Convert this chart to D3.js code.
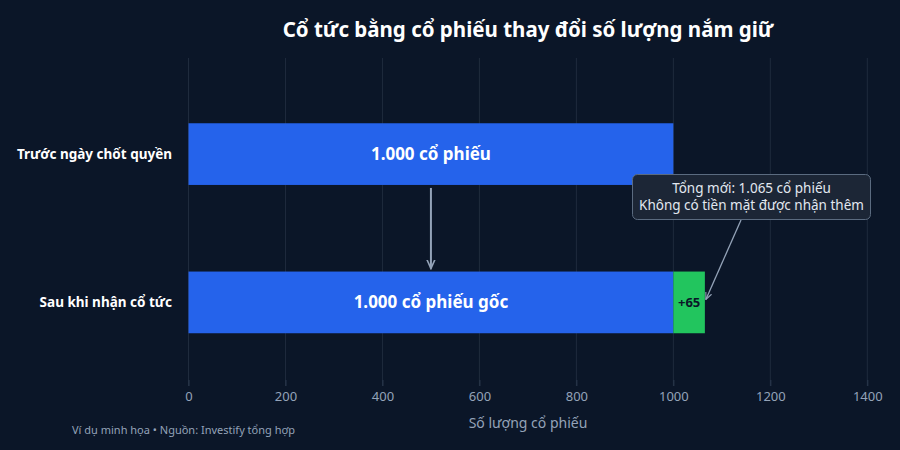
<!DOCTYPE html>
<html><head><meta charset="utf-8">
<script src="https://cdn.jsdelivr.net/npm/d3@7"></script>
<style>html,body{margin:0;padding:0;background:#0b1628;}svg{display:block;font-family:"Noto Sans","Open Sans",sans-serif;}</style>
</head><body>
<script>
const categories = ["Trước ngày chốt quyền", "Sau khi nhận cổ tức"];
const baseShares = [1000, 1000];
const bonusShares = [0, 65];
const baseLabels = ["1.000 cổ phiếu", "1.000 cổ phiếu gốc"];
const bonusLabels = ["", "+65"];
const xTicks = [0, 200, 400, 600, 800, 1000, 1200, 1400];
const title = "Cổ tức bằng cổ phiếu thay đổi số lượng nắm giữ";
const xTitle = "Số lượng cổ phiếu";
const footer = "Ví dụ minh họa  •  Nguồn: Investify tổng hợp";
const noteLines = ["Tổng mới: 1.065 cổ phiếu", "Không có tiền mặt được nhận thêm"];

const W = 900, H = 450;
const svg = d3.select("body").append("svg").attr("width", W).attr("height", H);
svg.append("rect").attr("width", W).attr("height", H).attr("fill", "#0b1628");

const x = d3.scaleLinear().domain([0, 1400]).range([188.5, 867.3]);
const y = d3.scaleBand().domain(categories).range([58, 398.5]).paddingInner(0.584).paddingOuter(0.44);

const defs = svg.append("defs");
defs.append("marker").attr("id", "ah").attr("viewBox", "0 0 10 10").attr("refX", 9).attr("refY", 5)
  .attr("markerWidth", 5).attr("markerHeight", 5).attr("orient", "auto")
  .append("path").attr("d", "M0,1L9,5L0,9").attr("fill", "none").attr("stroke", "#94a3b8").attr("stroke-width", 1.6);
defs.append("marker").attr("id", "ah2").attr("viewBox", "0 0 10 10").attr("refX", 9).attr("refY", 5)
  .attr("markerWidth", 6).attr("markerHeight", 6).attr("orient", "auto")
  .append("path").attr("d", "M0,1L9,5L0,9").attr("fill", "none").attr("stroke", "#94a3b8").attr("stroke-width", 1.4);

// grid
svg.append("g").selectAll("line").data(xTicks).join("line")
  .attr("x1", d => x(d)).attr("x2", d => x(d)).attr("y1", 58).attr("y2", 386)
  .attr("stroke", "#1f2b3d").attr("stroke-width", 1);

// x axis
const ax = svg.append("g").attr("transform", "translate(0,380)")
  .call(d3.axisBottom(x).tickValues(xTicks).tickSize(6).tickPadding(6).tickFormat(d3.format("d")));
ax.select(".domain").remove();
ax.selectAll(".tick line").attr("stroke", "#2c3a4f");
ax.selectAll(".tick text").attr("fill", "#94a3b8").attr("font-size", 13).attr("font-family", "Noto Sans");

// bars
const g = svg.append("g");
g.selectAll("rect.base").data(categories).join("rect").attr("class", "base")
  .attr("x", x(0)).attr("y", d => y(d)).attr("width", (d, i) => x(baseShares[i]) - x(0))
  .attr("height", y.bandwidth()).attr("fill", "#2563eb");
g.selectAll("rect.bonus").data(categories).join("rect").attr("class", "bonus")
  .attr("x", (d, i) => x(baseShares[i])).attr("y", d => y(d))
  .attr("width", (d, i) => x(baseShares[i] + bonusShares[i]) - x(baseShares[i]))
  .attr("height", y.bandwidth()).attr("fill", "#22c55e");

g.selectAll("text.bl").data(categories).join("text").attr("class", "bl")
  .attr("x", (d, i) => x(baseShares[i] / 2)).attr("y", d => y(d) + y.bandwidth() / 2)
  .attr("dy", "0.35em").attr("text-anchor", "middle").attr("fill", "#fff")
  .attr("font-size", 17).attr("font-weight", "bold").text((d, i) => baseLabels[i]);
g.selectAll("text.gl").data(categories).join("text").attr("class", "gl")
  .attr("x", (d, i) => x(baseShares[i] + bonusShares[i] / 2)).attr("y", d => y(d) + y.bandwidth() / 2)
  .attr("dy", "0.35em").attr("text-anchor", "middle").attr("fill", "#0b1628")
  .attr("font-size", 13).attr("font-weight", "bold").text((d, i) => bonusLabels[i]);

// category labels
svg.append("g").selectAll("text").data(categories).join("text")
  .attr("x", 172).attr("y", d => y(d) + y.bandwidth() / 2).attr("dy", "0.35em")
  .attr("text-anchor", "end").attr("fill", "#fff").attr("font-size", 13.5).attr("font-weight", "bold").text(d => d);

// vertical arrow
svg.append("line").attr("x1", x(500)).attr("x2", x(500))
  .attr("y1", y(categories[0]) + y.bandwidth() + 3).attr("y2", y(categories[1]) - 3)
  .attr("stroke", "#94a3b8").attr("stroke-width", 2).attr("marker-end", "url(#ah)");

// annotation
const tot = baseShares[1] + bonusShares[1];
svg.append("line").attr("x1", 741).attr("y1", 220).attr("x2", x(tot) + 1).attr("y2", y(categories[1]) + y.bandwidth() / 2 - 3)
  .attr("stroke", "#94a3b8").attr("stroke-width", 1.3).attr("marker-end", "url(#ah2)");
svg.append("rect").attr("x", 632.5).attr("y", 174.5).attr("width", 238).attr("height", 45).attr("rx", 5)
  .attr("fill", "#1c2636").attr("stroke", "#5b6b80").attr("stroke-width", 1);
svg.append("g").selectAll("text").data(noteLines).join("text")
  .attr("x", 751.5).attr("y", (d, i) => 193 + i * 17).attr("text-anchor", "middle")
  .attr("fill", "#e2e8f0").attr("font-size", 13.5).text(d => d);

// titles
svg.append("text").attr("x", 528).attr("y", 37).attr("text-anchor", "middle").attr("fill", "#fff")
  .attr("font-size", 20.5).attr("font-weight", "bold").text(title);
svg.append("text").attr("x", 528).attr("y", 428).attr("text-anchor", "middle").attr("fill", "#94a3b8")
  .attr("font-size", 14).text(xTitle);
svg.append("text").attr("x", 72).attr("y", 434).attr("fill", "#94a3b8").attr("font-size", 11)
  .attr("xml:space", "preserve").style("white-space", "pre").text(footer.replace(/  /g, " "));
</script>
</body></html>
